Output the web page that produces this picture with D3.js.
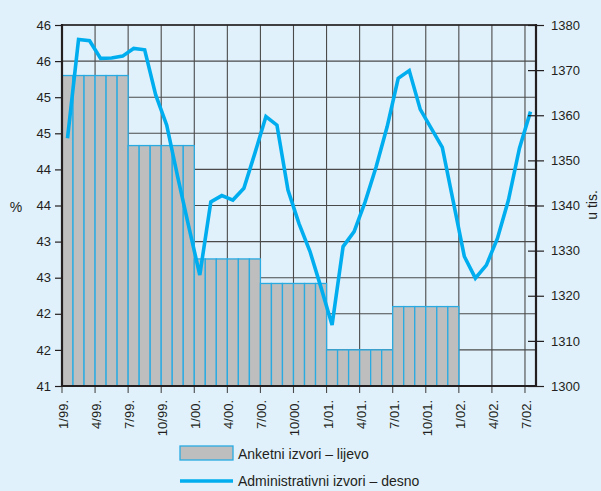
<!DOCTYPE html>
<html>
<head>
<meta charset="utf-8">
<script src="https://cdn.jsdelivr.net/npm/d3@7"></script>
<style>
  html, body { margin: 0; padding: 0; background: #e0f1fb; }
</style>
</head>
<body>
<div id="chart"></div>
<script>
// quarterly tick labels (x axis)
const quarterLabels = ["1/99.", "4/99.", "7/99.", "10/99.", "1/00.", "4/00.", "7/00.", "10/00.",
    "1/01.", "4/01.", "7/01.", "10/01.", "1/02.", "4/02.", "7/02."];

// survey sources, half-year values (%), left axis
const anketniPeriods = ["1/99", "7/99", "1/00", "7/00", "1/01", "7/01"];
const anketni = [45.3, 44.33, 42.76, 42.42, 41.5, 42.1];

// administrative sources, monthly 1/99 - 7/02 (thousands), right axis
const administrativni = [1354.9, 1376.8, 1376.5, 1372.6, 1372.7, 1373.1, 1374.8, 1374.5, 1364.5, 1357.8,
    1346.3, 1335.3, 1324.6, 1340.8, 1342.2, 1341.2, 1343.8, 1351.6, 1359.7, 1357.8,
    1343.4, 1336, 1329.8, 1321.8, 1313.5, 1330.9, 1334.2, 1340.8, 1348.6, 1357.5,
    1368.2, 1369.9, 1361.3, 1357.1, 1352.9, 1340.8, 1328.7, 1323.9, 1326.8, 1332.7,
    1341.2, 1352.7, 1360.8];

const leftTicks = [41, 41.5, 42, 42.5, 43, 43.5, 44, 44.5, 45, 45.5, 46];
const rightTicks = [1300, 1310, 1320, 1330, 1340, 1350, 1360, 1370, 1380];

const legendLabels = ["Anketni izvori – lijevo", "Administrativni izvori – desno"];

function drawChart() {
    const width = 601;
    const height = 491;
    const margin = { left: 62, right: 65, top: 25, bottom: 105 };
    const x0 = margin.left, x1 = width - margin.right;
    const y0 = height - margin.bottom, y1 = margin.top;

    const textColor = "#231f20";
    const blue = "#00aeef";

    const x = d3.scaleLinear().domain([0, 43]).range([x0, x1]);
    const yLeft = d3.scaleLinear().domain([41, 46]).range([y0, y1]);
    const yRight = d3.scaleLinear().domain([1300, 1380]).range([y0, y1]);

    const svg = d3.select("#chart")
        .append("svg")
        .attr("width", width)
        .attr("height", height)
        .attr("font-family", "Liberation Sans, Arial, sans-serif");

    svg.append("rect")
        .attr("width", width)
        .attr("height", height)
        .attr("fill", "#e0f1fb");

    // grid
    const grid = svg.append("g")
        .attr("stroke", "#4a4a4a")
        .attr("stroke-width", 1.1);

    grid.selectAll("line.h")
        .data(leftTicks)
        .join("line")
        .attr("class", "h")
        .attr("x1", x0).attr("x2", x1)
        .attr("y1", d => yLeft(d)).attr("y2", d => yLeft(d));

    grid.selectAll("line.v")
        .data(quarterLabels)
        .join("line")
        .attr("class", "v")
        .attr("x1", (d, i) => x(i * 3)).attr("x2", (d, i) => x(i * 3))
        .attr("y1", y1).attr("y2", y0 + 7);

    // monthly bars built from the half-year values
    const bars = [];
    anketni.forEach((v, p) => {
        for (let m = 0; m < 6; m++) bars.push({ month: p * 6 + m, value: v });
    });

    svg.append("g")
        .selectAll("rect")
        .data(bars)
        .join("rect")
        .attr("x", d => x(d.month))
        .attr("y", d => yLeft(d.value))
        .attr("width", d => x(d.month + 1) - x(d.month))
        .attr("height", d => y0 - yLeft(d.value))
        .attr("fill", "#bebebe")
        .attr("stroke", "#29abe2")
        .attr("stroke-width", 1.3);

    // line
    const line = d3.line()
        .x((d, i) => x(i + 0.5))
        .y(d => yRight(d));

    svg.append("path")
        .datum(administrativni)
        .attr("fill", "none")
        .attr("stroke", blue)
        .attr("stroke-width", 3.6)
        .attr("stroke-linejoin", "miter")
        .attr("d", line);

    // axes frame
    const frame = svg.append("g")
        .attr("stroke", "#231f20")
        .attr("stroke-width", 2.2);
    frame.append("line").attr("x1", x0).attr("x2", x0).attr("y1", y1 - 1).attr("y2", y0 + 1);
    frame.append("line").attr("x1", x1).attr("x2", x1).attr("y1", y1 - 1).attr("y2", y0 + 1);
    frame.append("line").attr("x1", x0 - 1).attr("x2", x1 + 1).attr("y1", y0).attr("y2", y0);
    frame.append("line").attr("x1", x0).attr("x2", x1).attr("y1", y1).attr("y2", y1)
        .attr("stroke-width", 1.5);

    // left axis
    const leftAxis = svg.append("g").attr("transform", `translate(${x0},0)`)
        .call(d3.axisLeft(yLeft).tickValues(leftTicks).tickFormat(d3.format(".0f")).tickSize(7).tickPadding(4));
    leftAxis.select(".domain").remove();

    // right axis
    const rightAxis = svg.append("g").attr("transform", `translate(${x1 - 8},0)`)
        .call(d3.axisRight(yRight).tickValues(rightTicks).tickFormat(d3.format("d")).tickSize(16).tickPadding(7));
    rightAxis.select(".domain").remove();

    [leftAxis, rightAxis].forEach(a => {
        a.selectAll(".tick line").attr("stroke", "#231f20").attr("stroke-width", 1.2);
        a.selectAll(".tick text").attr("fill", textColor).attr("font-size", 13);
    });

    // x labels
    svg.append("g")
        .selectAll("text")
        .data(quarterLabels)
        .join("text")
        .attr("transform", (d, i) => `translate(${x(i * 3) + 6},${y0 + 14}) rotate(-90)`)
        .attr("text-anchor", "end")
        .attr("font-size", 13)
        .attr("fill", textColor)
        .text(d => d);

    // axis titles
    svg.append("text")
        .attr("x", 16).attr("y", 212)
        .attr("text-anchor", "middle")
        .attr("font-size", 14)
        .attr("fill", textColor)
        .text("%");

    svg.append("text")
        .attr("transform", "translate(597,205) rotate(-90)")
        .attr("text-anchor", "middle")
        .attr("font-size", 14)
        .attr("fill", textColor)
        .text("u tis.");

    // legend
    const legend = svg.append("g");
    legend.append("rect")
        .attr("x", 180).attr("y", 446)
        .attr("width", 53).attr("height", 14)
        .attr("fill", "#bebebe")
        .attr("stroke", "#29abe2")
        .attr("stroke-width", 1.3);
    legend.append("line")
        .attr("x1", 180).attr("x2", 233)
        .attr("y1", 481).attr("y2", 481)
        .attr("stroke", blue)
        .attr("stroke-width", 3.5);
    legend.selectAll("text")
        .data(legendLabels)
        .join("text")
        .attr("x", 238)
        .attr("y", (d, i) => i === 0 ? 459 : 486)
        .attr("font-size", 14)
        .attr("fill", textColor)
        .text(d => d);

    return svg.node();
}

drawChart();
</script>
</body>
</html>
